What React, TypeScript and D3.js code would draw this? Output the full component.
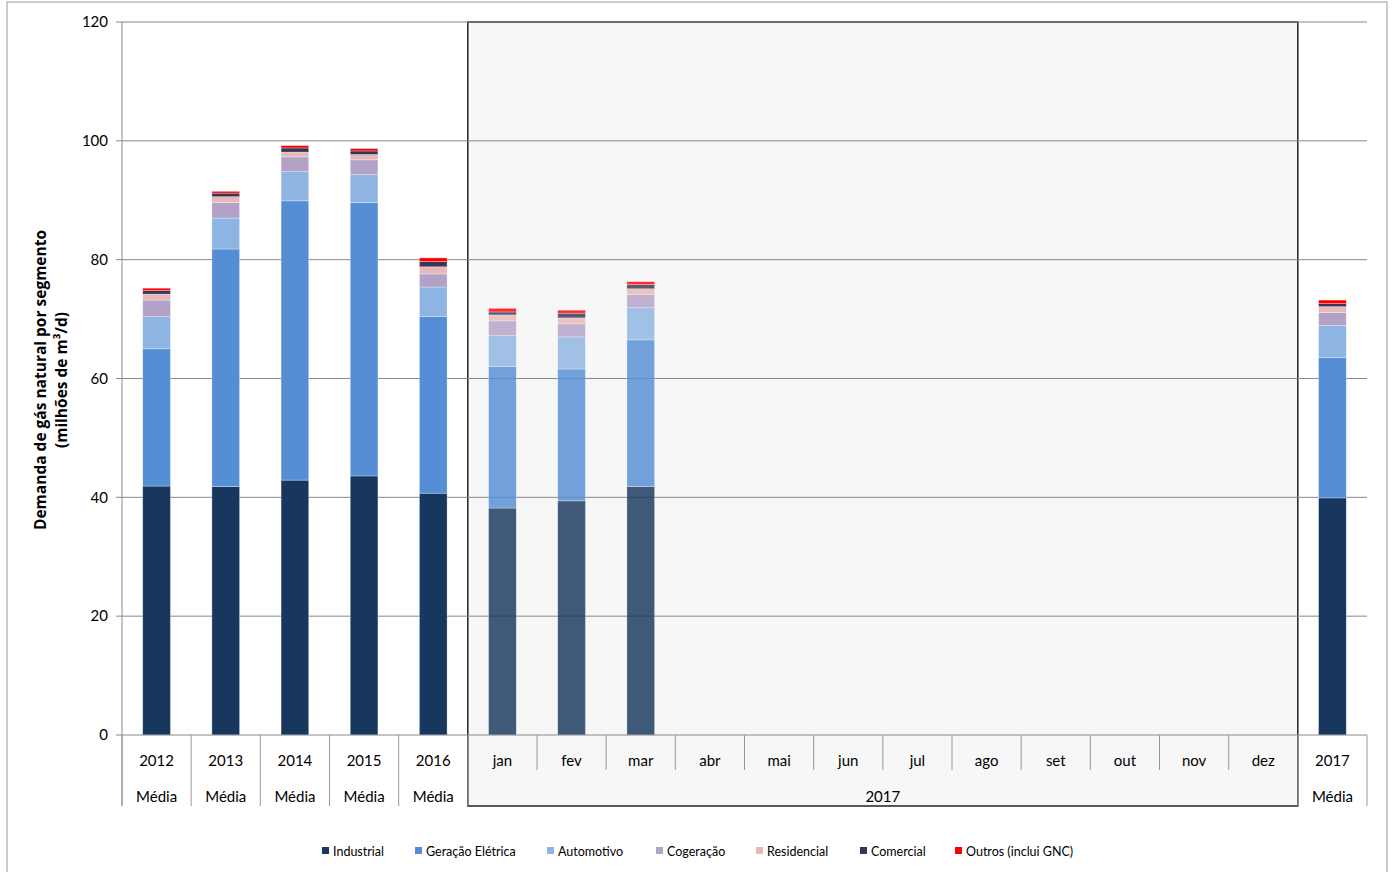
import React from "react";
import * as d3 from "d3";

const categories = ["2012","2013","2014","2015","2016","jan","fev","mar","abr","mai","jun","jul","ago","set","out","nov","dez","2017"];
const subLabels = ["Média","Média","Média","Média","Média","","","","","","","","","","","","","Média"];
const seriesNames = ["Industrial","Geração Elétrica","Automotivo","Cogeração","Residencial","Comercial","Outros (inclui GNC)"];
const colors = ["#17375E","#558ED5","#8EB4E3","#B3A2C7","#E6B9B8","#3A3556","#FF0000"];
const industrial = [41.9,41.8,42.9,43.6,40.7,38.2,39.4,41.8,0,0,0,0,0,0,0,0,0,39.9];
const geracao = [23.1,40.0,47.0,46.0,29.7,23.8,22.2,24.7,0,0,0,0,0,0,0,0,0,23.6];
const automotivo = [5.4,5.2,4.9,4.7,5.0,5.2,5.4,5.4,0,0,0,0,0,0,0,0,0,5.4];
const cogeracao = [2.8,2.6,2.5,2.5,2.2,2.5,2.2,2.2,0,0,0,0,0,0,0,0,0,2.2];
const residencial = [1.0,1.0,0.8,0.9,1.2,1.0,1.0,1.0,0,0,0,0,0,0,0,0,0,1.0];
const comercial = [0.6,0.6,0.7,0.6,0.9,0.5,0.8,0.7,0,0,0,0,0,0,0,0,0,0.5];
const outros = [0.4,0.3,0.4,0.4,0.6,0.6,0.5,0.5,0,0,0,0,0,0,0,0,0,0.6];
const yTicks = [0,20,40,60,80,100,120];

const series = [industrial,geracao,automotivo,cogeracao,residencial,comercial,outros];

export default function App() {
  const L = 122, R = 1367, T = 22, B = 735;
  const x = d3.scaleBand<number>().domain(d3.range(categories.length)).range([L, R]).paddingInner(0.6).paddingOuter(0.3);
  const step = (R - L) / categories.length;
  const y = d3.scaleLinear().domain([0, 120]).range([B, T]);
  const font = "Lato, 'Open Sans', sans-serif";
  const shadeX0 = L + 5 * step, shadeX1 = L + 17 * step;
  const legendX = [322, 415, 547, 656, 756, 860, 955];
  return (
    <svg width={1392} height={872} style={{ position: "absolute", left: 0, top: 0, background: "#fff" }} fontFamily={font}>
      <rect x={7} y={2} width={1380} height={880} fill="none" stroke="#999" />
      <rect x={shadeX0} y={T} width={shadeX1 - shadeX0} height={806 - T} fill="#f7f7f7" stroke="#000" strokeWidth={1.3} />
      {yTicks.map(t => (
        <g key={t}>
          {t > 0 && <line x1={L} x2={R} y1={y(t)} y2={y(t)} stroke="#888" strokeWidth={1} />}
          <line x1={L - 6} x2={L} y1={y(t)} y2={y(t)} stroke="#888" />
          <text x={L - 14} y={y(t)} dy="0.35em" textAnchor="end" fontSize={15}>{t}</text>
        </g>
      ))}
      {categories.map((c, i) => {
        let acc = 0;
        const month = i >= 5 && i <= 16;
        return (
          <g key={c} opacity={month ? 0.82 : 1}>
            {series.map((s, k) => {
              const v = s[i];
              const y0 = acc; acc += v;
              if (v <= 0) return null;
              return <rect key={k} x={x(i)} width={x.bandwidth()} y={y(acc)} height={y(y0) - y(acc)} fill={colors[k]} stroke="rgba(255,255,255,0.5)" strokeWidth={0.6} />;
            })}
          </g>
        );
      })}
      <line x1={L} x2={L} y1={T} y2={806} stroke="#888" />
      <line x1={L} x2={R} y1={B} y2={B} stroke="#888" />
      {d3.range(categories.length + 1).map(i => {
        const xx = L + i * step;
        const inside = i > 5 && i < 17;
        return <line key={i} x1={xx} x2={xx} y1={B} y2={inside ? 770 : 806} stroke="#999" />;
      })}
      {categories.map((c, i) => (
        <g key={"l" + i}>
          <text x={L + (i + 0.5) * step} y={761} dy="0.35em" textAnchor="middle" fontSize={15}>{c}</text>
          {subLabels[i] && <text x={L + (i + 0.5) * step} y={797} dy="0.35em" textAnchor="middle" fontSize={15}>{subLabels[i]}</text>}
        </g>
      ))}
      <text x={(shadeX0 + shadeX1) / 2} y={797} dy="0.35em" textAnchor="middle" fontSize={15}>2017</text>
      <text transform={`translate(46,380) rotate(-90)`} textAnchor="middle" fontSize={15.5} fontWeight="bold" fontFamily="'Open Sans', sans-serif">
        <tspan x={0} dy={0}>Demanda de gás natural por segmento</tspan>
        <tspan x={0} dy={21}>(milhões de m³/d)</tspan>
      </text>
      {seriesNames.map((n, k) => (
        <g key={n}>
          <rect x={legendX[k]} y={847} width={7} height={7} fill={colors[k]} />
          <text x={legendX[k] + 11} y={852} dy="0.35em" fontSize={12.5}>{n}</text>
        </g>
      ))}
    </svg>
  );
}
